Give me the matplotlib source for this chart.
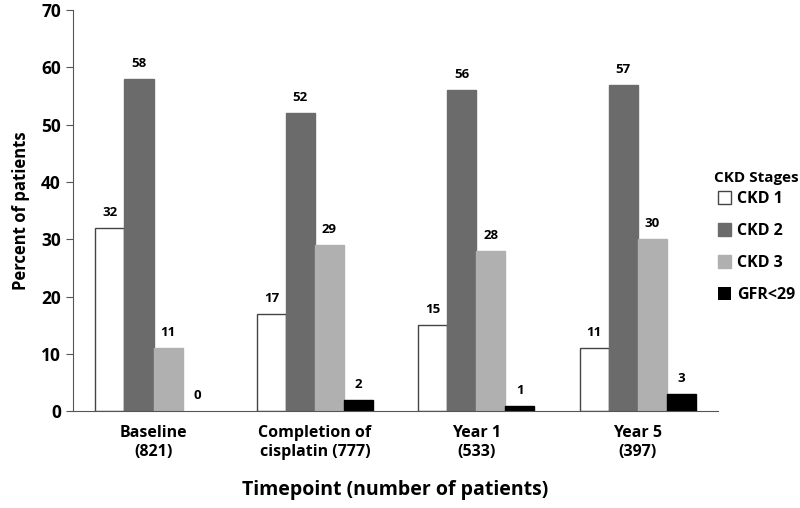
import numpy as np
import matplotlib.pyplot as plt

plt.rcParams['font.family'] = ['Open Sans', 'DejaVu Sans']
plt.rcParams['font.weight'] = 'bold'

# data
timepoints = ['Baseline\n(821)', 'Completion of\ncisplatin (777)', 'Year 1\n(533)', 'Year 5\n(397)']
stages = ['CKD 1', 'CKD 2', 'CKD 3', 'GFR<29']
ckd1 = [32, 17, 15, 11]
ckd2 = [58, 52, 56, 57]
ckd3 = [11, 29, 28, 30]
gfr29 = [0, 2, 1, 3]

colors = ['white', '#6b6b6b', '#b0b0b0', 'black']
edges = ['#444444', '#6b6b6b', '#b0b0b0', 'black']

fig = plt.figure(figsize=(8, 5.08), dpi=100)
ax = fig.add_axes([0.091, 0.19, 0.807, 0.79])

x = np.arange(len(timepoints))
w = 0.18
for i, vals in enumerate([ckd1, ckd2, ckd3, gfr29]):
    pos = x + (i - 1.5) * w
    lw = [1 if v > 0 else 0 for v in vals]
    ax.bar(pos, vals, w, color=colors[i], edgecolor=edges[i], linewidth=lw, label=stages[i])
    for p, v in zip(pos, vals):
        ax.text(p, v + 1.6, str(v), ha='center', va='bottom', fontsize=9.5, fontweight='bold')

ax.set_xlim(-0.5, 3.5)
ax.set_ylim(0, 70)
ax.set_yticks(range(0, 71, 10))
ax.set_xticks(x)
ax.set_xticklabels(timepoints, fontsize=11.5, fontweight='bold', linespacing=1.25)
ax.tick_params(axis='y', labelsize=12.5, length=5, color='#555555')
ax.tick_params(axis='x', length=0, pad=10)
for s in ['top', 'right']:
    ax.spines[s].set_visible(False)
ax.spines['left'].set_color('#555555')
ax.spines['bottom'].set_color('#555555')

ax.set_ylabel('Percent of patients', fontsize=12, fontweight='bold', labelpad=8)
ax.set_xlabel('Timepoint (number of patients)', fontsize=14, fontweight='bold', labelpad=14)

leg = fig.legend(loc='upper left', bbox_to_anchor=(0.885, 0.675), frameon=False,
                 title='CKD Stages', fontsize=11.5, title_fontsize=11,
                 handlelength=0.8, handleheight=0.8, handletextpad=0.4,
                 labelspacing=1.0, borderaxespad=0)
leg.get_title().set_fontweight('bold')
leg._legend_box.sep = 4

fig.savefig('out.png', dpi=100)
